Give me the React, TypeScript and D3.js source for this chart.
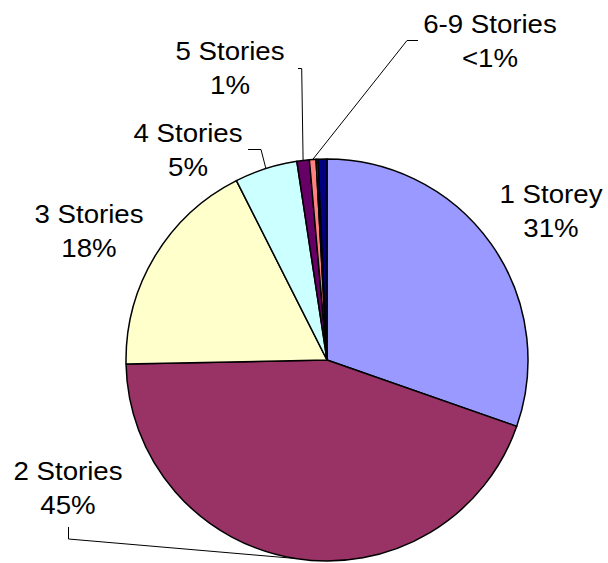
import React from "react";
import * as d3 from "d3";

const categories = ["1 Storey", "2 Stories", "3 Stories", "4 Stories", "5 Stories", "6 Stories", "7 Stories", "8-9 Stories"];
const values = [30.4, 44.4, 17.9, 5.05, 1.0, 0.53, 0.16, 0.71];
const colors = ["#9999FF", "#993366", "#FFFFCC", "#CCFFFF", "#660066", "#FF8080", "#0066CC", "#000080"];

// label text (name line, percent line) and which slice they belong to
const labelNames = ["1 Storey", "2 Stories", "3 Stories", "4 Stories", "5 Stories", "6-9 Stories"];
const labelPcts = ["31%", "45%", "18%", "5%", "1%", "<1%"];
const labelSlice = [0, 1, 2, 3, 4, 5];

// layout (positions of label text and leader starts)
const labelPos: [number, number][] = [
  [551, 203],
  [68, 479.5],
  [89, 222.5],
  [188, 141.7],
  [230, 60],
  [490, 33],
];
const leaderStarts: ([number, number][] | null)[] = [
  null,
  [[68.5, 527], [68.5, 539]],
  null,
  [[248, 149.5], [261, 149.5]],
  [[298, 68.5], [301.7, 68.5]],
  [[418, 40.5], [407, 40.5]],
];

const W = 608;
const H = 563;
const cx = 327;
const cy = 360;
const R = 201;
const fontSize = 25.6;
const lineGap = 34.4;
const stretch = 1.08;

export default function App() {
  const pie = d3.pie<number>().sort(null).startAngle(0).endAngle(2 * Math.PI);
  const arcs = pie(values);
  const arc = d3.arc<d3.PieArcDatum<number>>().innerRadius(0).outerRadius(R);
  const rimPoint = (i: number): [number, number] => {
    const a = (arcs[i].startAngle + arcs[i].endAngle) / 2;
    return [cx + R * Math.sin(a), cy - R * Math.cos(a)];
  };
  const line = d3.line();

  return (
    <svg width={W} height={H} style={{ position: "absolute", left: 0, top: 0, background: "#fff" }}
      fontFamily="'Liberation Sans', Arial, sans-serif">
      <rect x={0} y={0} width={W} height={H} fill="#fff" />
      <g transform={`translate(${cx},${cy})`}>
        {arcs.map((d, i) => (
          <path key={categories[i]} d={arc(d) || ""} fill={colors[i]} stroke="#000" strokeWidth={1.5} strokeLinejoin="round" />
        ))}
      </g>
      {leaderStarts.map((pts, k) => {
        if (!pts) return null;
        const all = [...pts, rimPoint(labelSlice[k])] as [number, number][];
        return <path key={"l" + k} d={line(all) || ""} fill="none" stroke="#000" strokeWidth={1} />;
      })}
      {labelNames.map((n, k) => (
        <g key={"t" + k} fontSize={fontSize} fill="#000" textAnchor="middle">
          <text transform={`translate(${labelPos[k][0]},${labelPos[k][1]}) scale(${stretch},1)`}>{n}</text>
          <text transform={`translate(${labelPos[k][0]},${labelPos[k][1] + lineGap}) scale(${stretch},1)`}>{labelPcts[k]}</text>
        </g>
      ))}
    </svg>
  );
}
